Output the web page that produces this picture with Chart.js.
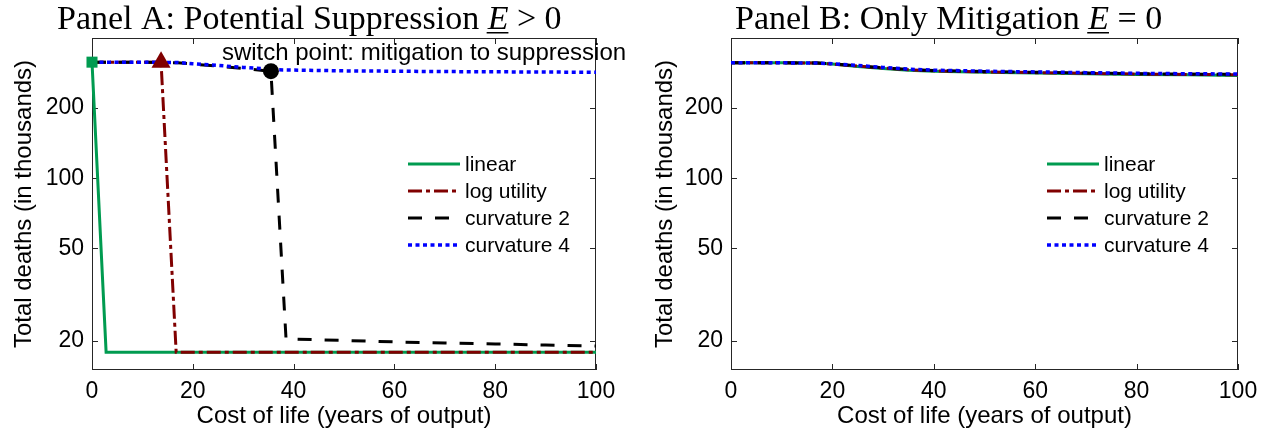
<!DOCTYPE html>
<html>
<head>
<meta charset="utf-8">
<script src="https://cdn.jsdelivr.net/npm/chart.js@4.4.0/dist/chart.umd.min.js"></script>
<style>
  body { margin: 0; background: #fff; }
  .panel { position: absolute; top: 0; width: 635px; height: 443px; }
</style>
</head>
<body>
<div class="panel" style="left:0"><canvas id="chartA" width="635" height="443"></canvas></div>
<div class="panel" style="left:635px"><canvas id="chartB" width="635" height="443"></canvas></div>
<script>
// values, deaths in thousands
const seriesNames = ["linear", "log utility", "curvature 2", "curvature 4"];
const yTicks = [20, 50, 100, 200];
const xTicks = [0, 20, 40, 60, 80, 100];

// Panel A: potential suppression
const linearA_x = [0, 2.8, 100];
const linearA_y = [315, 17.9, 17.9];
const logA_x = [0, 5, 10, 13.7, 16.7, 100];
const logA_y = [315, 315, 315, 315, 17.9, 17.9];
const curv2A_x = [0, 10, 17, 20, 25, 30, 35.5, 38.5, 50, 60, 70, 80, 90, 100];
const curv2A_y = [315, 315, 313, 309, 303, 296, 288, 20.4, 20.1, 19.8, 19.6, 19.4, 19.2, 19.0];
const curv4A_x = [0, 10, 17, 20, 25, 30, 37, 50, 70, 100];
const curv4A_y = [315, 315, 314, 310, 305, 299, 292, 289, 287, 285];

// switch points marked on panel A (index into each series)
const switchIdx = [0, 3, 6];

// Panel B: only mitigation
const costB = [0, 10, 17, 20, 25, 30, 35, 40, 50, 60, 70, 80, 90, 100];
const linearB = [313, 313, 312, 309, 302, 296, 291, 288, 285, 283, 281, 279, 278, 276];
const logB = [313, 313, 312, 309, 303, 297, 292, 289, 286, 284, 282, 280, 279, 278];
const curv2B = [313, 313, 312, 310, 304, 298, 293, 290, 287, 285, 283, 281, 280, 279];
const curv4B = [313, 313, 312, 310, 305, 299, 294, 291, 288, 286, 284, 282, 281, 280];

const switchLabel = "switch point: mitigation to suppression";

const styles = [
  { color: "rgb(0,155,80)", dash: [], width: 3, order: 4, marker: "rect", r: 7.8 },
  { color: "rgb(128,0,0)", dash: [14, 4, 4, 4], width: 3, order: 3, marker: "triangle", r: 11 },
  { color: "#000", dash: [14, 13], width: 3, order: 2, marker: "circle", r: 8 },
  { color: "rgb(0,0,255)", dash: [4, 3.5], width: 3.5, order: 1 },
];

const pts = (xs, ys) => xs.map((x, i) => ({ x: x, y: ys[i] }));

function makeDataset(k, data) {
  const s = styles[k];
  return {
    label: seriesNames[k],
    data: data,
    borderColor: s.color,
    backgroundColor: s.color,
    borderWidth: s.width,
    borderDash: s.dash,
    order: s.order,
    tension: 0,
    clip: false,
    pointRadius: 0,
  };
}

// marker on top of all lines
function makeMarker(k, point) {
  const s = styles[k];
  return {
    label: seriesNames[k] + " switch",
    isMarker: true,
    data: [point],
    showLine: false,
    order: 0,
    clip: false,
    pointStyle: s.marker,
    pointRadius: s.r,
    pointBorderWidth: 0,
    backgroundColor: s.color,
    borderColor: s.color,
  };
}

// box with inward tick marks, like the original plot
const frame = {
  id: "frame",
  beforeDatasetsDraw(chart) {
    const { ctx, chartArea: a } = chart;
    const xs = chart.scales.x, ys = chart.scales.y;
    ctx.save();
    ctx.strokeStyle = "#262626";
    ctx.lineWidth = 1;
    ctx.setLineDash([]);
    ctx.strokeRect(a.left + 0.5, a.top + 0.5, a.right - a.left - 1, a.bottom - a.top - 1);
    ctx.beginPath();
    xTicks.forEach((v) => {
      const px = Math.round(xs.getPixelForValue(v)) + 0.5;
      ctx.moveTo(px, a.bottom); ctx.lineTo(px, a.bottom - 6);
      ctx.moveTo(px, a.top); ctx.lineTo(px, a.top + 6);
    });
    yTicks.forEach((v) => {
      const py = Math.round(ys.getPixelForValue(v)) + 0.5;
      ctx.moveTo(a.left, py); ctx.lineTo(a.left + 6, py);
      ctx.moveTo(a.right, py); ctx.lineTo(a.right - 6, py);
    });
    ctx.stroke();
    ctx.restore();
  },
};

// legend drawn inside the axes
const boxLegend = {
  id: "boxLegend",
  afterDraw(chart) {
    const { ctx, chartArea: a } = chart;
    ctx.save();
    ctx.font = '21px "Liberation Sans"';
    ctx.textBaseline = "middle";
    ctx.fillStyle = "#000";
    chart.data.datasets.filter((ds) => !ds.isMarker).forEach((ds, i) => {
      const x0 = a.left + 316;
      const y = 164 + i * 27;
      ctx.strokeStyle = ds.borderColor;
      ctx.lineWidth = ds.borderWidth;
      ctx.setLineDash(ds.borderDash);
      ctx.beginPath();
      ctx.moveTo(x0, y); ctx.lineTo(x0 + 52, y);
      ctx.stroke();
      ctx.fillText(ds.label, x0 + 57, y + 1);
    });
    ctx.restore();
  },
};

// serif title with underlined italic E
const panelTitle = {
  id: "panelTitle",
  afterDraw(chart, args, o) {
    const ctx = chart.ctx;
    ctx.save();
    ctx.fillStyle = "#000";
    ctx.textBaseline = "alphabetic";
    let x = o.x;
    ctx.font = o.size + 'px "Liberation Serif"';
    ctx.fillText(o.pre, x, o.y);
    x += ctx.measureText(o.pre).width;
    ctx.font = "italic " + o.size + 'px "Liberation Serif"';
    const w = ctx.measureText("E").width;
    ctx.fillText("E", x, o.y);
    ctx.fillRect(x - 1, o.y + 3, w + 1, 1.5);
    x += w;
    ctx.font = o.size + 'px "Liberation Serif"';
    ctx.fillText(o.post, x, o.y);
    ctx.restore();
  },
};

const switchNote = {
  id: "switchNote",
  afterDraw(chart) {
    const { ctx } = chart;
    const px = chart.scales.x.getPixelForValue(curv2A_x[switchIdx[2]]);
    const py = chart.scales.y.getPixelForValue(curv2A_y[switchIdx[2]]);
    ctx.save();
    ctx.font = '24px "Liberation Sans"';
    ctx.fillStyle = "#000";
    ctx.textBaseline = "alphabetic";
    ctx.fillText(switchLabel, px - 49, py - 11);
    ctx.restore();
  },
};

function makeOptions(yWidth, yTitlePad, rightPad, title) {
  return {
    responsive: false,
    animation: false,
    devicePixelRatio: 1,
    layout: { padding: { left: 0, right: rightPad, top: 38, bottom: 0 } },
    plugins: {
      legend: { display: false },
      tooltip: { enabled: false },
      panelTitle: title,
    },
    scales: {
      x: {
        type: "linear",
        min: 0,
        max: 100,
        grid: { display: false, drawTicks: false },
        border: { display: false },
        afterBuildTicks: (s) => { s.ticks = xTicks.map((v) => ({ value: v })); },
        afterFit: (s) => { s.height = 73; },
        ticks: { autoSkip: false, maxRotation: 0, padding: 8, color: "#000",
                 font: { family: "Liberation Sans", size: 23 } },
        title: { display: true, text: "Cost of life (years of output)", color: "#000",
                 padding: { top: 0, bottom: 12 }, font: { family: "Liberation Sans", size: 24 } },
      },
      y: {
        type: "logarithmic",
        min: 15,
        max: 400,
        grid: { display: false, drawTicks: false },
        border: { display: false },
        afterBuildTicks: (s) => { s.ticks = yTicks.map((v) => ({ value: v })); },
        afterFit: (s) => { s.width = yWidth; },
        ticks: { padding: 8, color: "#000", callback: (v) => String(v),
                 font: { family: "Liberation Sans", size: 23 } },
        title: { display: true, text: "Total deaths (in thousands)", color: "#000",
                 padding: { top: yTitlePad, bottom: 0 }, font: { family: "Liberation Sans", size: 24 } },
      },
    },
  };
}

const seriesA = [pts(linearA_x, linearA_y), pts(logA_x, logA_y), pts(curv2A_x, curv2A_y), pts(curv4A_x, curv4A_y)];

new Chart(document.getElementById("chartA"), {
  type: "line",
  data: {
    datasets: seriesA.map((d, k) => makeDataset(k, d))
      .concat(switchIdx.map((idx, k) => makeMarker(k, seriesA[k][idx]))),
  },
  options: makeOptions(92, 10, 39,
    { x: 57, y: 29, size: 34, pre: "Panel A: Potential Suppression ", post: " > 0" }),
  plugins: [frame, boxLegend, panelTitle, switchNote],
});

new Chart(document.getElementById("chartB"), {
  type: "line",
  data: {
    datasets: [linearB, logB, curv2B, curv4B].map((ys, k) => makeDataset(k, pts(costB, ys))),
  },
  options: makeOptions(96, 16, 32,
    { x: 100, y: 29, size: 34, pre: "Panel B: Only Mitigation ", post: " = 0" }),
  plugins: [frame, boxLegend, panelTitle],
});
</script>
</body>
</html>
